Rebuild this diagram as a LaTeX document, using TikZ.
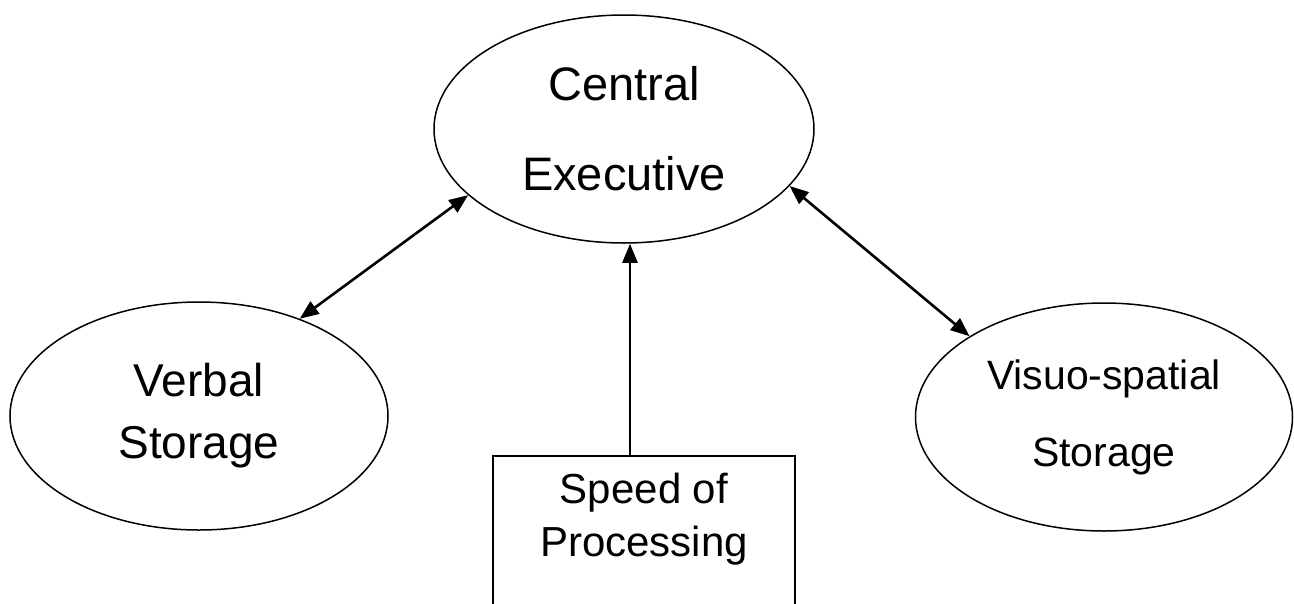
\documentclass[tikz,border=0pt]{standalone}
\usepackage{fontspec}
\setmainfont{Liberation Sans}
\usetikzlibrary{shapes.geometric, arrows.meta, positioning}

\begin{document}
\begin{tikzpicture}[x=1pt, y=-1pt,
  store/.style={ellipse, draw=black, line width=1.5pt, minimum width=380pt, minimum height=228pt, inner sep=0pt, align=center},
  link/.style={{Triangle[length=19pt,width=15pt]}-{Triangle[length=19pt,width=15pt]}, line width=2.6pt},
  feed/.style={-{Triangle[length=19pt,width=15pt]}, line width=2.6pt}]
\useasboundingbox (0,0) rectangle (1294,603);

% Center node
\node[store, font=\fontsize{47}{90}\selectfont] (cex) at (624,129) {Central\\Executive};

% Storage nodes
\node[store, minimum width=378pt, font=\fontsize{46}{62}\selectfont] (verbal) at (199,416) {Verbal\\Storage};
\node[store, minimum width=377pt, font=\fontsize{41}{77}\selectfont] (visuo) at (1104,417) {Visuo-spatial\\Storage};

% Speed box
\node[draw, line width=2.2pt, anchor=north, minimum width=302pt, inner sep=17pt, text depth=80pt, align=center, font=\fontsize{42}{53}\selectfont] (speed) at (644,455) {Speed of\\Processing};
\coordinate (sp) at (630,455);

% Connections
\draw[link] (verbal.44.7) -- (cex.203.2);
\draw[link] (cex.341.2) -- (visuo.149.2);
\draw[feed] (sp) -- (sp |- cex.south);
\end{tikzpicture}
\end{document}
